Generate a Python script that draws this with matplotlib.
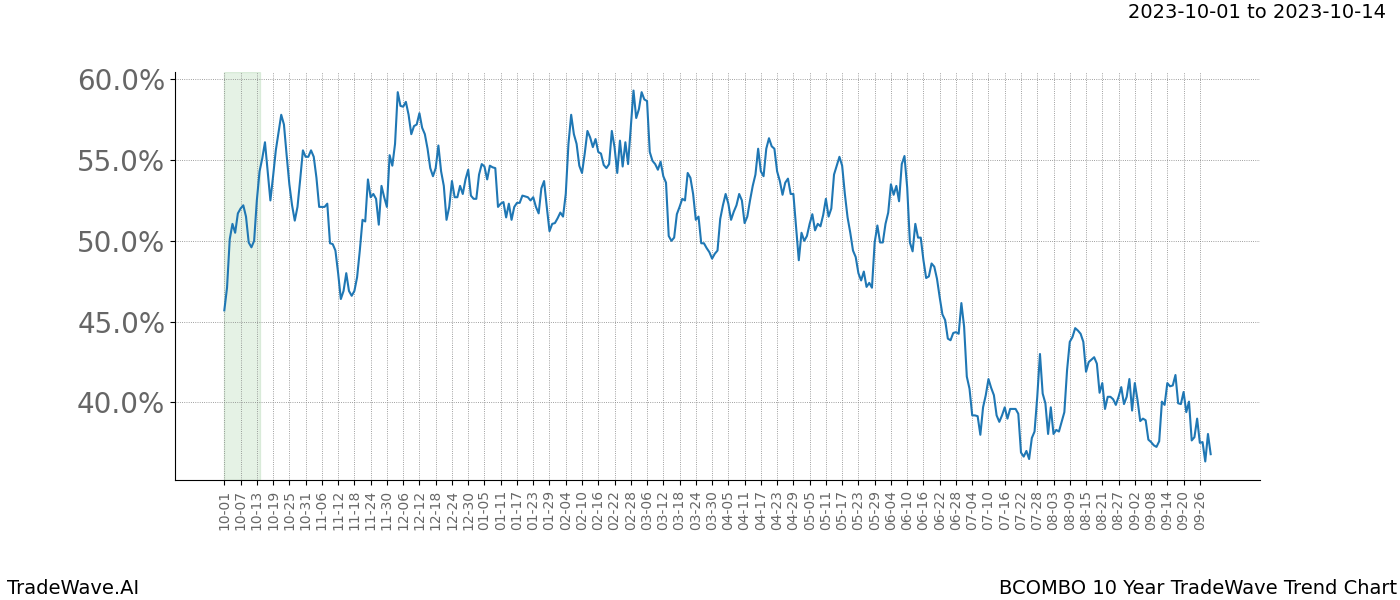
import matplotlib
matplotlib.use('Agg')
import matplotlib.pyplot as plt
from matplotlib.ticker import FuncFormatter
import pandas as pd

# 10 year seasonal trend, one value per calendar day (no Feb 29), in percent
trend = [
    45.7, 47.1, 50.1, 51.05, 50.5, 51.7, 52.0, 52.2, 51.5, 49.9,
    49.6, 50.0, 52.5, 54.3, 55.1, 56.1, 54.3, 52.5, 54.0, 55.6,
    56.7, 57.8, 57.2, 55.3, 53.5, 52.2, 51.25, 52.1, 53.8, 55.6,
    55.2, 55.2, 55.6, 55.2, 53.9, 52.1, 52.1, 52.1, 52.3, 49.85,
    49.8, 49.4, 48.0, 46.4, 46.9, 48.0, 46.9, 46.6, 46.9, 47.75,
    49.4, 51.3, 51.2, 53.8, 52.7, 52.9, 52.6, 51.0, 53.4, 52.7,
    52.1, 55.3, 54.65, 56.0, 59.2, 58.35, 58.3, 58.6, 57.8, 56.6,
    57.1, 57.2, 57.9, 57.0, 56.6, 55.7, 54.5, 54.0, 54.5, 55.9,
    54.3, 53.4, 51.3, 52.1, 53.7, 52.7, 52.7, 53.4, 52.9, 53.8,
    54.4, 52.8, 52.6, 52.6, 54.1, 54.75, 54.6, 53.8, 54.65, 54.55,
    54.5, 52.1, 52.3, 52.4, 51.45, 52.3, 51.3, 52.1, 52.35, 52.35,
    52.8, 52.75, 52.7, 52.5, 52.7, 52.1, 51.7, 53.25, 53.7, 52.1,
    50.6, 51.05, 51.1, 51.4, 51.75, 51.5, 52.9, 56.0, 57.8, 56.6,
    56.0, 54.65, 54.2, 55.4, 56.8, 56.4, 55.8, 56.3, 55.5, 55.4,
    54.7, 54.5, 54.75, 56.8, 55.8, 54.2, 56.2, 54.6, 56.1, 54.75,
    57.0, 59.3, 57.6, 58.15, 59.2, 58.75, 58.65, 55.5, 54.95, 54.75,
    54.4, 54.9, 54.0, 53.6, 50.3, 50.0, 50.2, 51.65, 52.1, 52.6,
    52.5, 54.2, 53.9, 52.9, 51.3, 51.5, 49.85, 49.85, 49.55, 49.3,
    48.9, 49.2, 49.4, 51.35, 52.2, 52.9, 52.3, 51.3, 51.8, 52.2,
    52.9, 52.5, 51.1, 51.5, 52.5, 53.4, 54.1, 55.7, 54.3, 54.0,
    55.7, 56.35, 55.85, 55.7, 54.3, 53.7, 52.85, 53.6, 53.85, 52.9,
    52.9, 50.85, 48.8, 50.5, 50.0, 50.3, 51.05, 51.65, 50.65, 51.05,
    50.9, 51.6, 52.6, 51.5, 52.0, 54.1, 54.65, 55.2, 54.65, 52.9,
    51.45, 50.5, 49.4, 49.0, 48.0, 47.55, 48.1, 47.15, 47.4, 47.1,
    49.9, 50.95, 49.9, 49.9, 51.05, 51.75, 53.5, 52.85, 53.4, 52.45,
    54.75, 55.25, 53.3, 49.9, 49.35, 51.05, 50.2, 50.2, 48.8, 47.7,
    47.8, 48.6, 48.4, 47.65, 46.5, 45.45, 45.1, 43.95, 43.85, 44.3,
    44.35, 44.25, 46.15, 44.7, 41.6, 40.85, 39.2, 39.2, 39.15, 38.0,
    39.7, 40.45, 41.45, 40.9, 40.45, 39.2, 38.8, 39.2, 39.7, 39.0,
    39.6, 39.6, 39.6, 39.3, 36.9, 36.65, 37.0, 36.5, 37.8, 38.2,
    40.35, 43.0, 40.55, 39.95, 38.05, 39.7, 38.05, 38.3, 38.2, 38.8,
    39.4, 42.0, 43.75, 44.05, 44.6, 44.45, 44.25, 43.75, 41.9, 42.5,
    42.65, 42.8, 42.4, 40.6, 41.2, 39.6, 40.35, 40.35, 40.2, 39.85,
    40.35, 40.95, 39.9, 40.35, 41.45, 39.5, 41.2, 40.15, 38.85, 39.0,
    38.9, 37.7, 37.55, 37.35, 37.25, 37.6, 40.05, 39.85, 41.2, 41.0,
    41.05, 41.7, 39.95, 39.9, 40.65, 39.4, 40.05, 37.65, 37.85, 39.0,
    37.5, 37.55, 36.35, 38.05, 36.8,
]

START = '2023-10-01'
HIGHLIGHT_END = '2023-10-14'
TICK_EVERY = 6

dates = pd.date_range(START, periods=len(trend) + 1, freq='D')
dates = dates[~((dates.month == 2) & (dates.day == 29))][:len(trend)]
labels = [d.strftime('%m-%d') for d in dates]
hl_end = list(dates.strftime('%Y-%m-%d')).index(HIGHLIGHT_END)

fig, ax = plt.subplots(figsize=(14, 6), dpi=100)
fig.subplots_adjust(left=0.125, right=0.9, top=0.88, bottom=0.2)

x = list(range(len(trend)))
ax.plot(x, trend, color='#1f77b4', linewidth=1.5)
ax.axvspan(0, hl_end, color='green', alpha=0.1)

ax.set_xticks(x[::TICK_EVERY])
ax.set_xticklabels(labels[::TICK_EVERY], rotation=90, fontsize=10, color='#666666')
ax.yaxis.set_major_formatter(FuncFormatter(lambda v, p: f'{v:.1f}%'))
ax.tick_params(axis='y', labelsize=20, labelcolor='#666666')

ax.grid(True, color='gray', linestyle=':', linewidth=0.6)
ax.spines['top'].set_visible(False)
ax.spines['right'].set_visible(False)

fig.text(0.99, 0.995, f'{START} to {HIGHLIGHT_END}', ha='right', va='top', fontsize=14)
fig.text(0.005, 0.003, 'TradeWave.AI', ha='left', va='bottom', fontsize=14)
fig.text(0.998, 0.003, 'BCOMBO 10 Year TradeWave Trend Chart', ha='right', va='bottom', fontsize=14)

fig.savefig('out.png')
